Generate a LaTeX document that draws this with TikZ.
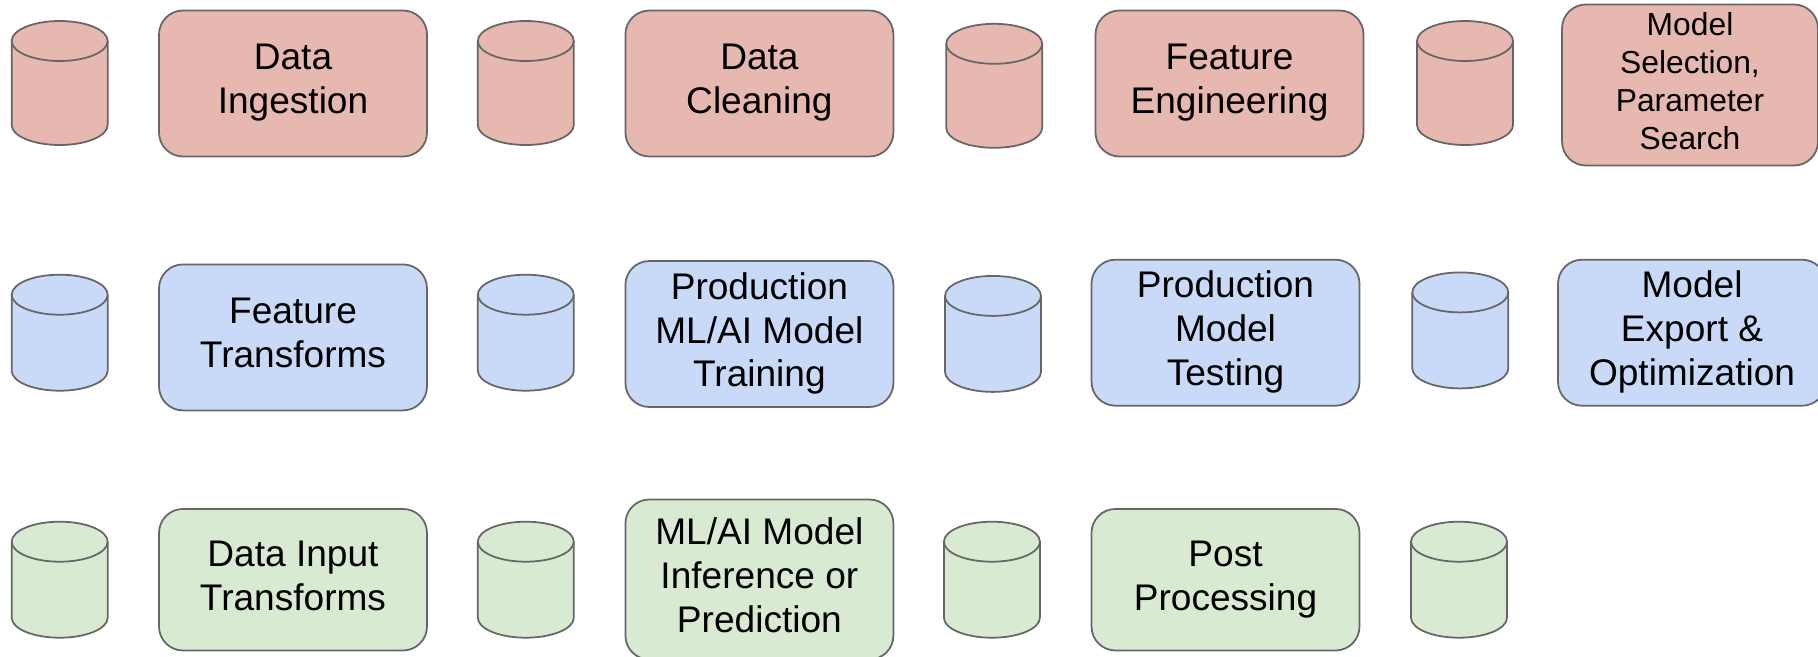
\documentclass[tikz,border=0pt]{standalone}
\usepackage{fontspec}
\setmainfont{Liberation Sans}

\definecolor{prepcolor}{HTML}{E6B8AF}
\definecolor{traincolor}{HTML}{C9DAF8}
\definecolor{servecolor}{HTML}{D9EAD3}

\begin{document}
\begin{tikzpicture}[x=0.02cm,y=-0.02cm,
  stage/.style={draw=black!60,line width=1pt,rounded corners=0.48cm,minimum width=268*0.02cm,minimum height=146*0.02cm,inner sep=0pt,align=center,font=\fontsize{21.1}{25}\selectfont,execute at begin node={\rule{0pt}{19.8pt}},execute at end node={\rule[-5pt]{0pt}{5pt}}},
  smallstage/.style={stage,minimum width=256*0.02cm,minimum height=161*0.02cm,font=\fontsize{18.1}{21.6}\selectfont},
  lowstage/.style={stage,minimum height=141.5*0.02cm},
  tallstage/.style={stage,minimum height=160*0.02cm},
  pics/store/.style={code={
    \draw[draw=black!60,line width=1pt,pic actions] (-48,-#1/2+20) -- (-48,#1/2-20) arc[start angle=180,end angle=0,x radius=48,y radius=20] -- (48,-#1/2+20) arc[start angle=0,end angle=-180,x radius=48,y radius=20] -- cycle;
    \draw[draw=black!60,line width=1pt] (-48,-#1/2+20) arc[start angle=180,end angle=0,x radius=48,y radius=20];
  }}]
 \useasboundingbox (0,0) rectangle (1818,656);
 \clip (0,0) rectangle (1818,656);
 \pic[fill=prepcolor] (prepstore1) at (59.7,83) {store=124};
 \node[stage,fill=prepcolor] (ingest) at (293,83.5) {Data\\Ingestion};
 \pic[fill=prepcolor] (prepstore2) at (525.8,83) {store=124};
 \node[stage,fill=prepcolor] (clean) at (759.4,83.5) {Data\\Cleaning};
 \pic[fill=prepcolor] (prepstore3) at (994.2,85.8) {store=124};
 \node[stage,fill=prepcolor] (feature) at (1229.5,83.5) {Feature\\Engineering};
 \pic[fill=prepcolor] (prepstore4) at (1465,83) {store=124};
 \node[smallstage,fill=prepcolor] (select) at (1690,85) {Model\\Selection,\\Parameter\\Search};
 \pic[fill=traincolor] (trainstore1) at (59.7,332.7) {store=116};
 \node[stage,fill=traincolor] (transform) at (293,337.4) {Feature\\Transforms};
 \pic[fill=traincolor] (trainstore2) at (525.8,332.7) {store=116};
 \node[stage,fill=traincolor] (training) at (759.4,334) {Production\\ML/AI Model\\Training};
 \pic[fill=traincolor] (trainstore3) at (993,333.9) {store=116};
 \node[stage,fill=traincolor] (testing) at (1225.5,332.7) {Production\\Model\\Testing};
 \pic[fill=traincolor] (trainstore4) at (1460.3,330.4) {store=116};
 \node[stage,fill=traincolor] (export) at (1692,332.7) {Model\\Export \&\\Optimization};
 \pic[fill=servecolor] (servestore1) at (59.7,579.7) {store=116};
 \node[lowstage,fill=servecolor] (input) at (293,579.7) {Data Input\\Transforms};
 \pic[fill=servecolor] (servestore2) at (525.8,579.7) {store=116};
 \node[tallstage,fill=servecolor] (inference) at (759.4,579.5) {ML/AI Model\\Inference or\\Prediction};
 \pic[fill=servecolor] (servestore3) at (991.9,579.7) {store=116};
 \node[lowstage,fill=servecolor] (post) at (1225.5,579.7) {Post\\Processing};
 \pic[fill=servecolor] (servestore4) at (1459,579.7) {store=116};
\end{tikzpicture}
\end{document}
